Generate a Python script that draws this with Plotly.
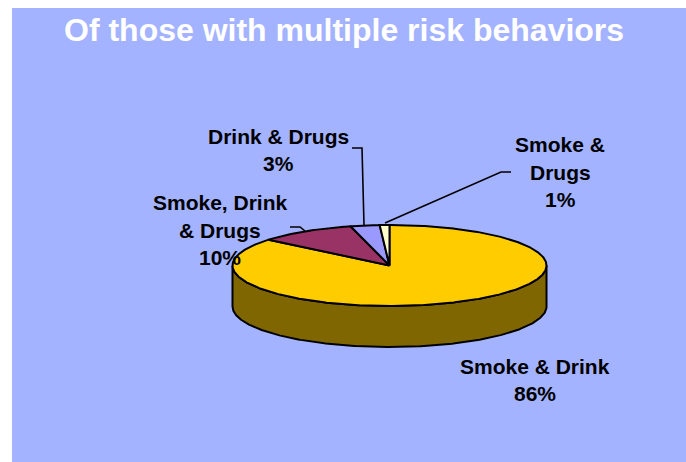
import numpy as np
import plotly.graph_objects as go

title = "Of those with multiple risk behaviors"
categories = ["Smoke & Drink", "Smoke, Drink & Drugs", "Drink & Drugs", "Smoke & Drugs"]
values = [86, 10, 3, 1]
top_colors = ["#FFCC00", "#993366", "#9999FF", "#FFFFCC"]
wall_colors = ["#806600", "#4D1A33", "#4D4D80", "#808066"]
label_lines = [["Smoke & Drink", "86%"], ["Smoke, Drink", "& Drugs", "10%"], ["Drink & Drugs", "3%"], ["Smoke &", "Drugs", "1%"]]

# geometry in pixels of the 686x462 canvas
CX, CY, RX, RY, DEPTH = 389.5, 265.5, 157, 40.5, 41
label_pos = [(535, 380), (220, 230), (278, 150), (560, 172)]
leaders = [None, [(290, 227), (300, 227), (305, 231)], [(352, 148), (362, 148), (364, 225)], [(511, 172), (501, 172), (385, 223)]]
LINE_H = 27.5
FONT = "Liberation Sans, Arial, sans-serif"


def arc(a0, a1, dy=0.0):
    t = np.radians(np.arange(a0, a1 + 0.25, 0.5))
    t = np.append(t, np.radians(a1))
    return CX + RX * np.sin(t), CY + dy - RY * np.cos(t)


fig = go.Figure()
shares = np.array(values) / sum(values) * 360
edges = np.concatenate([[0], np.cumsum(shares)])

# walls (front half only)
for i in range(len(values)):
    a0, a1 = max(edges[i], 90), min(edges[i + 1], 270)
    if a1 <= a0:
        continue
    x0, y0 = arc(a0, a1)
    x1, y1 = arc(a0, a1, DEPTH)
    fig.add_trace(go.Scatter(x=np.r_[x0, x1[::-1], x0[0]], y=np.r_[y0, y1[::-1], y0[0]], mode="lines",
                             fill="toself", fillcolor=wall_colors[i], line=dict(color="black", width=2),
                             hoverinfo="skip", showlegend=False))
# top wedges
for i, c in enumerate(categories):
    x, y = arc(edges[i], edges[i + 1])
    fig.add_trace(go.Scatter(x=np.r_[CX, x, CX], y=np.r_[CY, y, CY], mode="lines", name=c,
                             fill="toself", fillcolor=top_colors[i], line=dict(color="black", width=2),
                             showlegend=False))
# leader lines
for pts in leaders:
    if pts:
        fig.add_trace(go.Scatter(x=[p[0] for p in pts], y=[p[1] for p in pts], mode="lines",
                                 line=dict(color="black", width=1.6), hoverinfo="skip", showlegend=False))
# labels, line by line
for lines, (lx, ly) in zip(label_lines, label_pos):
    for k, t in enumerate(lines):
        fig.add_annotation(x=lx, y=ly + (k - (len(lines) - 1) / 2) * LINE_H, text=t, showarrow=False,
                           xanchor="center", yanchor="middle",
                           font=dict(family=FONT, size=21, color="black", weight="bold"))
fig.add_annotation(x=344, y=30, text=title, showarrow=False, xanchor="center", yanchor="middle",
                   font=dict(family=FONT, size=32, color="white", weight="bold"))

fig.update_layout(width=686, height=462, margin=dict(l=12, r=0, t=8, b=0), paper_bgcolor="white",
                  plot_bgcolor="#A4B3FF", font=dict(family=FONT),
                  xaxis=dict(range=[12, 686], visible=False, fixedrange=True),
                  yaxis=dict(range=[462, 8], visible=False, fixedrange=True))
fig.write_html("out.html", config=dict(displayModeBar=False),
               post_script="document.body.style.margin='0';document.documentElement.style.overflow='hidden';")
